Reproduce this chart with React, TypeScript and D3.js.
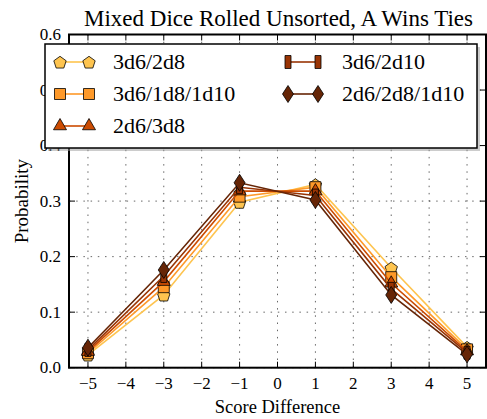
import React from "react";
import * as d3 from "d3";

const xValues = [-5, -3, -1, 1, 3, 5];
const seriesNames = ["3d6/2d8", "3d6/1d8/1d10", "2d6/3d8", "3d6/2d10", "2d6/2d8/1d10"];
const s1 = [0.023, 0.131, 0.298, 0.330, 0.180, 0.037];
const s2 = [0.026, 0.145, 0.308, 0.325, 0.163, 0.033];
const s3 = [0.029, 0.155, 0.318, 0.318, 0.152, 0.030];
const s4 = [0.032, 0.165, 0.325, 0.310, 0.142, 0.027];
const s5 = [0.036, 0.176, 0.333, 0.302, 0.131, 0.024];
const seriesValues = [s1, s2, s3, s4, s5];
const colors = ["#fec44f", "#fe9929", "#cc4c02", "#993404", "#662506"];
const markers = ["pentagon", "square", "triangle", "rect", "diamond"];
const xTicks = [-5, -4, -3, -2, -1, 0, 1, 2, 3, 4, 5];
const yTicks = [0.0, 0.1, 0.2, 0.3, 0.4, 0.5, 0.6];

const W = 487, H = 419;
const left = 69, right = 486, top = 34.5, bottom = 367.7;
const FONT = "'Liberation Serif', serif";

function markerPath(kind: string): string {
  if (kind === "pentagon") {
    const r = 6.5;
    const pts = d3.range(5).map(k => {
      const a = (-90 + 72 * k) * Math.PI / 180;
      return [r * Math.cos(a), r * Math.sin(a) + 0.8];
    });
    return "M" + pts.map(p => p.join(",")).join("L") + "Z";
  }
  if (kind === "square") {
    const s = 5.5;
    return `M${-s},${-s}L${s},${-s}L${s},${s}L${-s},${s}Z`;
  }
  if (kind === "triangle") {
    const r = 7.5;
    return `M0,${-r}L${r * 0.87},${r * 0.5}L${-r * 0.87},${r * 0.5}Z`;
  }
  if (kind === "rect") {
    return `M-3,-6.5L3,-6.5L3,6.5L-3,6.5Z`;
  }
  return `M0,-8.5L5.5,0L0,8.5L-5.5,0Z`;
}

export default function App() {
  const x = d3.scaleLinear().domain([-5.5, 5.5]).range([left, right]);
  const y = d3.scaleLinear().domain([0, 0.6]).range([bottom, top]);
  const line = d3.line<[number, number]>().x(d => x(d[0])).y(d => y(d[1]));

  const legendItems = seriesNames.map((name, i) => {
    const col = i < 3 ? 0 : 1;
    const row = i < 3 ? i : i - 3;
    return { name, i, mx1: col === 0 ? 60 : 288, mx2: col === 0 ? 89 : 318, tx: col === 0 ? 113 : 342, cy: 62 + row * 32 };
  });

  return (
    <svg width={W} height={H} style={{ position: "absolute", left: 0, top: 0, background: "#fff" }} fontFamily={FONT}>
      <rect x={0} y={0} width={W} height={H} fill="#fff" />
      {/* grid */}
      {xTicks.map(t => (
        <line key={"gx" + t} x1={x(t)} x2={x(t)} y1={top} y2={bottom} stroke="#000" strokeOpacity={0.6} strokeWidth={1} strokeDasharray="1.5,5.7" />
      ))}
      {yTicks.map(t => (
        <line key={"gy" + t} x1={left} x2={right} y1={y(t)} y2={y(t)} stroke="#000" strokeOpacity={0.6} strokeWidth={1} strokeDasharray="1.5,5.7" />
      ))}
      {/* ticks inward */}
      {xTicks.map(t => (
        <g key={"tx" + t}>
          <line x1={x(t)} x2={x(t)} y1={bottom} y2={bottom - 6} stroke="#000" strokeWidth={1} />
          <line x1={x(t)} x2={x(t)} y1={top} y2={top + 6} stroke="#000" strokeWidth={1} />
          <text x={x(t)} y={389} textAnchor="middle" fontSize={17} fill="#000">{t < 0 ? "\u2212" + Math.abs(t) : String(t)}</text>
        </g>
      ))}
      {yTicks.map(t => (
        <g key={"ty" + t}>
          <line x1={left} x2={left + 6} y1={y(t)} y2={y(t)} stroke="#000" strokeWidth={1} />
          <line x1={right} x2={right - 6} y1={y(t)} y2={y(t)} stroke="#000" strokeWidth={1} />
          <text x={61} y={y(t) + 5.5} textAnchor="end" fontSize={17} fill="#000">{t.toFixed(1)}</text>
        </g>
      ))}
      {/* series */}
      {seriesValues.map((vals, i) => {
        const pts = xValues.map((xv, j) => [xv, vals[j]] as [number, number]);
        return (
          <g key={"s" + i}>
            <path d={line(pts) || ""} fill="none" stroke={colors[i]} strokeWidth={1.6} />
            {pts.map((p, j) => (
              <path key={j} d={markerPath(markers[i])} transform={`translate(${x(p[0])},${y(p[1])})`} fill={colors[i]} stroke="#000" strokeWidth={0.8} />
            ))}
          </g>
        );
      })}
      {/* axes frame */}
      <rect x={left} y={top} width={right - left} height={bottom - top} fill="none" stroke="#000" strokeWidth={2} />
      {/* legend */}
      <rect x={48} y={47} width={432} height={104} fill="#999" opacity={0.5} />
      <rect x={45} y={44} width={432} height={104} fill="#fff" stroke="#000" strokeWidth={1.5} />
      {legendItems.map(it => (
        <g key={"l" + it.i}>
          <line x1={it.mx1} x2={it.mx2} y1={it.cy} y2={it.cy} stroke={colors[it.i]} strokeWidth={1.6} />
          <path d={markerPath(markers[it.i])} transform={`translate(${it.mx1},${it.cy})`} fill={colors[it.i]} stroke="#000" strokeWidth={0.8} />
          <path d={markerPath(markers[it.i])} transform={`translate(${it.mx2},${it.cy})`} fill={colors[it.i]} stroke="#000" strokeWidth={0.8} />
          <text x={it.tx} y={it.cy + 7} fontSize={22} fill="#000">{it.name}</text>
        </g>
      ))}
      {/* title and labels */}
      <text x={(left + right) / 2 + 1} y={26} textAnchor="middle" fontSize={23} fill="#000">Mixed Dice Rolled Unsorted, A Wins Ties</text>
      <text x={(left + right) / 2} y={413} textAnchor="middle" fontSize={18.5} fill="#000">Score Difference</text>
      <text transform={`translate(28,${(top + bottom) / 2}) rotate(-90)`} textAnchor="middle" fontSize={19} fill="#000">Probability</text>
    </svg>
  );
}
